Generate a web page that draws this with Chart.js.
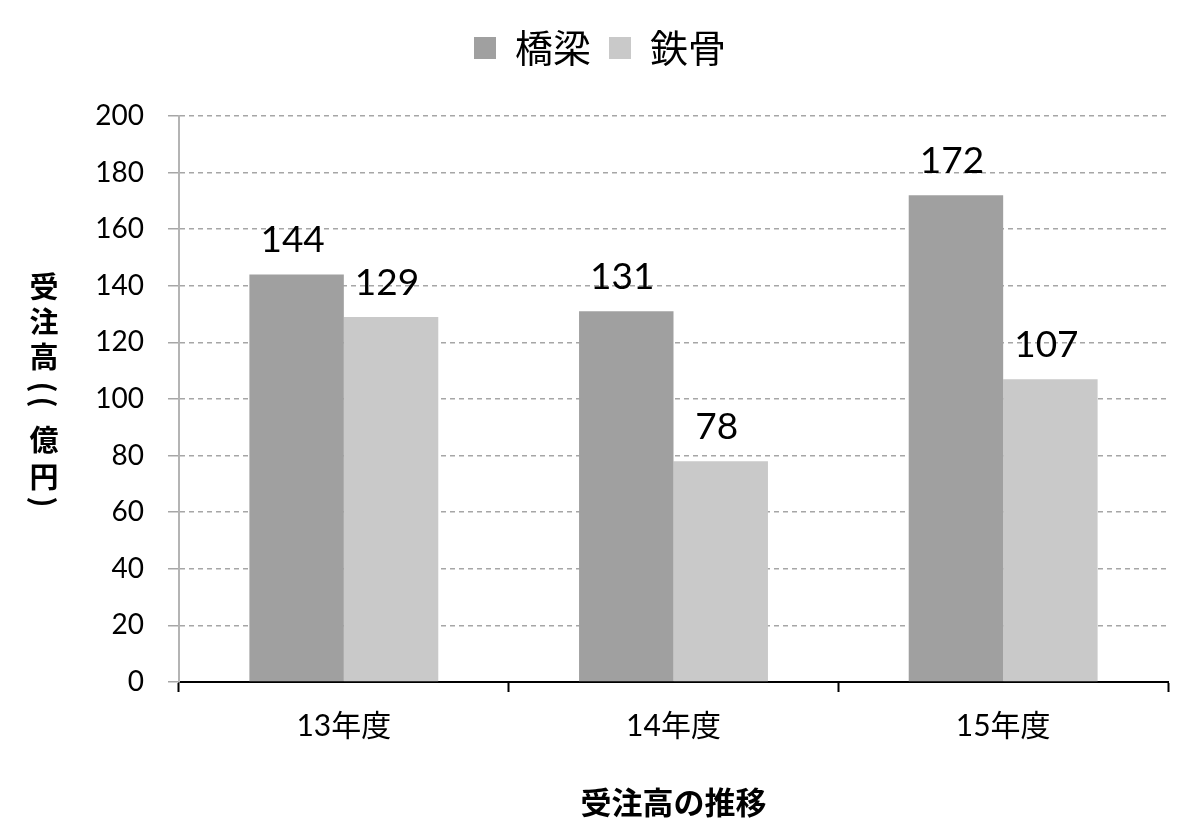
<!DOCTYPE html>
<html>
<head>
<meta charset="utf-8">
<script src="https://cdn.jsdelivr.net/npm/chart.js@4.4.1/dist/chart.umd.min.js"></script>
<style>
  html, body { margin: 0; padding: 0; background: #fff; }
  #wrap { width: 1200px; height: 836px; }
</style>
</head>
<body>
<div id="wrap"><canvas id="chart"></canvas></div>
<script>
// data
const years = ["13年度", "14年度", "15年度"];
const bridge = [144, 131, 172];   // 橋梁
const steel = [129, 78, 107];     // 鉄骨
const yTicks = [0, 20, 40, 60, 80, 100, 120, 140, 160, 180, 200];
const yTitle = ["受", "注", "高", "(", "(", "億", "円", ")"];

const JP = "'Noto Sans CJK JP'";
const NUM = "Lato, 'Noto Sans CJK JP'";

// values above each bar
const valueLabels = {
  id: "valueLabels",
  afterDatasetsDraw(chart) {
    const ctx = chart.ctx;
    ctx.save();
    ctx.font = "37px " + NUM;
    ctx.fillStyle = "#000";
    ctx.textAlign = "center";
    ctx.textBaseline = "alphabetic";
    chart.data.datasets.forEach((ds, i) => {
      chart.getDatasetMeta(i).data.forEach((bar, j) => {
        ctx.fillText(ds.data[j], bar.x - 4, bar.y - 22);
      });
    });
    ctx.restore();
  }
};

// stacked vertical y title, brackets turned on their side
const stackedTitle = {
  id: "stackedTitle",
  afterDraw(chart) {
    const ctx = chart.ctx;
    const rows = [287, 322, 357, 387, 402, 440, 477, 502];
    ctx.save();
    ctx.font = "bold 29px " + JP;
    ctx.fillStyle = "#000";
    ctx.textAlign = "center";
    ctx.textBaseline = "middle";
    yTitle.forEach((ch, k) => {
      ctx.save();
      ctx.translate(44, rows[k]);
      if ("()".includes(ch)) ctx.rotate(Math.PI / 2);
      ctx.fillText(ch, 0, 0);
      ctx.restore();
    });
    ctx.restore();
  }
};

// extra room under the legend, legend row pushed down a little
const legendGap = {
  id: "legendGap",
  beforeInit(chart) {
    const lg = chart.legend;
    const fit = lg.fit;
    const draw = lg.draw;
    lg.fit = function () {
      fit.call(lg);
      this.height += 50;
    };
    lg.draw = function () {
      chart.ctx.save();
      chart.ctx.translate(0, 11);
      draw.call(lg);
      chart.ctx.restore();
    };
  }
};

new Chart(document.getElementById("chart"), {
  type: "bar",
  data: {
    labels: years,
    datasets: [
      { label: "橋梁", data: bridge, backgroundColor: "#a0a0a0",
        categoryPercentage: 0.573, barPercentage: 1 },
      { label: "鉄骨", data: steel, backgroundColor: "#c9c9c9",
        categoryPercentage: 0.573, barPercentage: 1 }
    ]
  },
  options: {
    responsive: true,
    maintainAspectRatio: false,
    animation: false,
    layout: { padding: 0 },
    plugins: {
      legend: {
        position: "top",
        labels: {
          font: { family: JP, size: 38 },
          color: "#000",
          boxWidth: 22,
          boxHeight: 22,
          padding: 18
        }
      },
      tooltip: { enabled: false }
    },
    scales: {
      x: {
        grid: {
          drawOnChartArea: false,
          drawTicks: true,
          tickLength: 10,
          tickColor: "#000",
          tickWidth: 2
        },
        border: { color: "#000", width: 2 },
        ticks: { font: { family: NUM, size: 30 }, color: "#000", padding: 16 },
        title: {
          display: true,
          text: "受注高の推移",
          font: { family: JP, size: 31, weight: "bold" },
          color: "#000",
          padding: { top: 0, bottom: 15 }
        },
        afterFit(scale) { scale.height = 836 - 682; }
      },
      y: {
        min: 0,
        max: 200,
        afterBuildTicks(scale) { scale.ticks = yTicks.map(v => ({ value: v })); },
        grid: {
          color: "#a6a6a6",
          tickBorderDash: [],
          tickLength: 11,
          tickColor: "#a6a6a6",
          lineWidth: 1.5
        },
        border: { color: "#b4b4b4", width: 2, dash: [5, 4] },
        ticks: { font: { family: NUM, size: 28 }, color: "#000", padding: 24 },
        afterFit(scale) { scale.width = 179; }
      },
      // empty strip on the right so the legend stays centred on the page
      spacer: {
        type: "linear",
        position: "right",
        grid: { display: false },
        border: { display: false },
        ticks: { display: false },
        afterFit(scale) { scale.width = 32; }
      }
    }
  },
  plugins: [valueLabels, stackedTitle, legendGap]
});
</script>
</body>
</html>
